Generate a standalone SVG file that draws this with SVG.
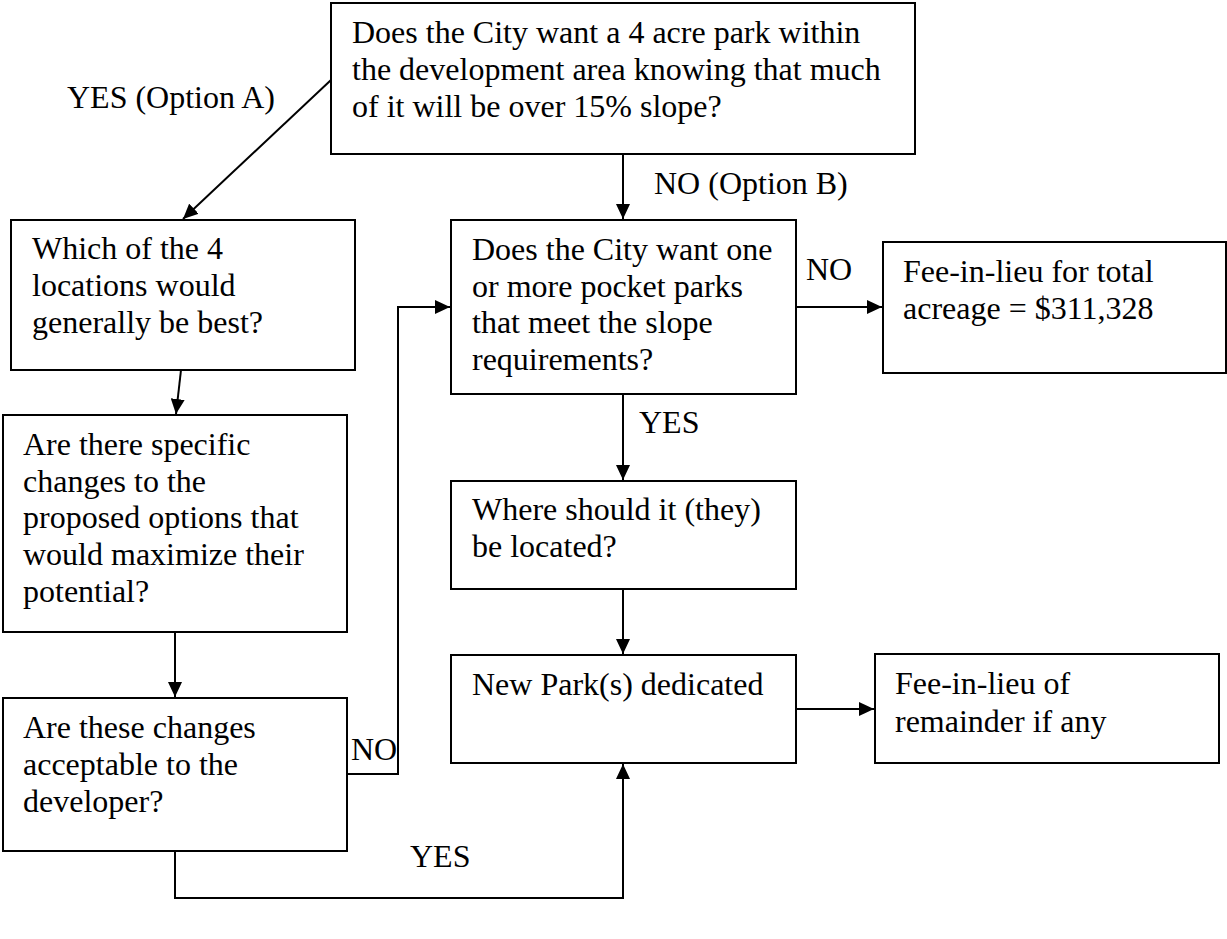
<svg xmlns="http://www.w3.org/2000/svg" width="1227" height="939" viewBox="0 0 1227 939">
<style>
text{font-family:"Liberation Serif","Times New Roman",serif;font-size:32px;fill:#000}
.box{fill:#fff;stroke:#000;stroke-width:2}
.ln{fill:none;stroke:#000;stroke-width:2}
</style>
<defs>
<marker id="ah" markerUnits="userSpaceOnUse" markerWidth="16" markerHeight="14" refX="15" refY="7" orient="auto">
<path d="M0,0 L15,7 L0,14 z" fill="#000"/>
</marker>
</defs>
<rect width="1227" height="939" fill="#fff"/>
<g id="connectors">
<line class="ln" x1="331" y1="80" x2="183" y2="219" marker-end="url(#ah)"/>
<line class="ln" x1="623" y1="154" x2="623" y2="219" marker-end="url(#ah)"/>
<line class="ln" x1="796" y1="307" x2="882" y2="307" marker-end="url(#ah)"/>
<line class="ln" x1="623" y1="394" x2="623" y2="480" marker-end="url(#ah)"/>
<line class="ln" x1="623" y1="589" x2="623" y2="654" marker-end="url(#ah)"/>
<line class="ln" x1="796" y1="709" x2="874" y2="709" marker-end="url(#ah)"/>
<line class="ln" x1="181" y1="370" x2="176" y2="414" marker-end="url(#ah)"/>
<line class="ln" x1="175" y1="632" x2="175" y2="697" marker-end="url(#ah)"/>
<polyline class="ln" points="347,774 398,774 398,307 450,307" marker-end="url(#ah)"/>
<polyline class="ln" points="175,851 175,898 623,898 623,764" marker-end="url(#ah)"/>
<text x="67" y="108">YES (Option A)</text>
<text x="654" y="194">NO (Option B)</text>
<text x="806" y="280">NO</text>
<text x="639" y="433">YES</text>
<text x="351" y="760">NO</text>
<text x="410" y="867">YES</text>
</g>
<g id="n-top">
<rect class="box" x="331" y="3" width="584" height="151"/>
<text x="352" y="43">Does the City want a 4 acre park within</text>
<text x="352" y="80">the development area knowing that much</text>
<text x="352" y="117">of it will be over 15% slope?</text>
</g>
<g id="n-which">
<rect class="box" x="11" y="220" width="344" height="150"/>
<text x="32" y="259">Which of the 4</text>
<text x="32" y="296">locations would</text>
<text x="32" y="333">generally be best?</text>
</g>
<g id="n-pocket">
<rect class="box" x="451" y="220" width="345" height="174"/>
<text x="472" y="260">Does the City want one</text>
<text x="472" y="297">or more pocket parks</text>
<text x="472" y="333">that meet the slope</text>
<text x="472" y="370">requirements?</text>
</g>
<g id="n-fee-total">
<rect class="box" x="883" y="242" width="343" height="131"/>
<text x="903" y="282">Fee-in-lieu for total</text>
<text x="903" y="319">acreage = $311,328</text>
</g>
<g id="n-changes">
<rect class="box" x="3" y="415" width="344" height="217"/>
<text x="23" y="455">Are there specific</text>
<text x="23" y="492">changes to the</text>
<text x="23" y="528">proposed options that</text>
<text x="23" y="565">would maximize their</text>
<text x="23" y="602">potential?</text>
</g>
<g id="n-where">
<rect class="box" x="451" y="481" width="345" height="108"/>
<text x="472" y="520">Where should it (they)</text>
<text x="472" y="557">be located?</text>
</g>
<g id="n-accept">
<rect class="box" x="3" y="698" width="344" height="153"/>
<text x="23" y="738">Are these changes</text>
<text x="23" y="775">acceptable to the</text>
<text x="23" y="812">developer?</text>
</g>
<g id="n-newpark">
<rect class="box" x="451" y="655" width="345" height="108"/>
<text x="472" y="695">New Park(s) dedicated</text>
</g>
<g id="n-fee-rem">
<rect class="box" x="875" y="654" width="344" height="109"/>
<text x="895" y="694">Fee-in-lieu of</text>
<text x="895" y="732">remainder if any</text>
</g>
</svg>
